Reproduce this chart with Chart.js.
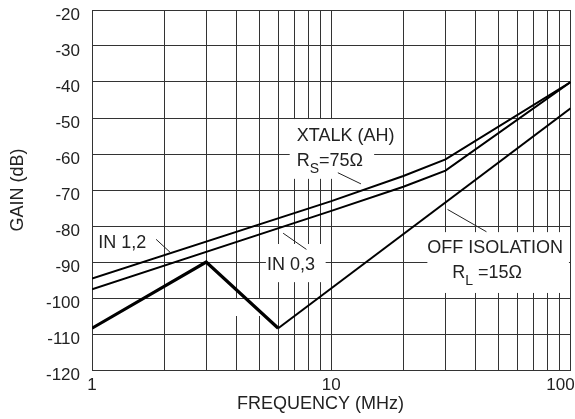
<!DOCTYPE html>
<html>
<head>
<meta charset="utf-8">
<script src="https://cdn.jsdelivr.net/npm/chart.js@4/dist/chart.umd.min.js"></script>
<style>
  html, body { margin: 0; padding: 0; background: #fff; overflow: hidden; }
  #wrap { width: 575px; height: 419px; overflow: hidden; }
</style>
</head>
<body>
<div id="wrap"><canvas id="gainChart" width="600" height="419"></canvas></div>
<script>
// values (MHz, dB)
const freqIn12 = [1, 10, 20, 30, 100];
const gainIn12 = [-94.6, -73.1, -66.1, -61.5, -40];
const freqIn03 = [1, 10, 20, 30, 100];
const gainIn03 = [-97.6, -75.8, -69.1, -64.6, -40];
const freqOff = [1, 3, 6, 100];
const gainOff = [-108.4, -90, -108.4, -47.3];

// axis ticks
const freqGrid = [1, 2, 3, 4, 5, 6, 7, 8, 9, 10, 20, 30, 40, 50, 60, 70, 80, 90, 100];
const freqLabels = ['1', '10', '100\u2003\u2009'];
const gainTicks = [-20, -30, -40, -50, -60, -70, -80, -90, -100, -110, -120];

const fam = '"Liberation Sans", Arial, sans-serif';
const textFont = '18px ' + fam;
const ink = '#222';

function pts(xs, ys) {
    return xs.map((x, i) => ({ x: x, y: ys[i] }));
}

// white boxes behind labels (data coords: f1, f2, dB top, dB bottom)
const labelBoxes = [
    [6.7, 15.1, -50.3, -66.9],
    [5.33, 9.47, -85.0, -95.6],
    [3.42, 5.43, -100.3, -105.0],
    [25.2, 98.4, -81.7, -98.6],
];

// label text: [freq, dB at baseline, parts]
const labelTexts = [
    [7.17, -56.5, [['XTALK (AH)']]],
    [7.17, -63.25, [['R'], ['S', 1], ['=75Ω']]],
    [1.062, -86.1, [['IN 1,2']]],
    [5.38, -92.2, [['IN 0,3']]],
    [25.2, -87.5, [['OFF ISOLATION']]],
    [32.0, -94.4, [['R'], ['L', 1], [' =15Ω']]],
];

// leader lines: [f1, dB1, f2, dB2]
const leaders = [
    [10.65, -65.2, 13.3, -68.3],
    [1.853, -83.7, 2.12, -87.3],
    [6.29, -82.0, 7.87, -86.5],
    [30.6, -75.4, 44.5, -81.6],
];

const labelPlugin = {
    id: 'labels',
    beforeDatasetsDraw(chart) {
        const { ctx, scales: { x, y } } = chart;
        ctx.save();
        ctx.fillStyle = '#fff';
        labelBoxes.forEach(b => {
            const x1 = x.getPixelForValue(b[0]), x2 = x.getPixelForValue(b[1]);
            const y1 = y.getPixelForValue(b[2]), y2 = y.getPixelForValue(b[3]);
            ctx.fillRect(x1, y1, x2 - x1, y2 - y1);
        });
        ctx.restore();
    },
    afterDatasetsDraw(chart) {
        const { ctx, scales: { x, y } } = chart;
        ctx.save();
        ctx.strokeStyle = ink;
        ctx.lineWidth = 1;
        leaders.forEach(l => {
            ctx.beginPath();
            ctx.moveTo(x.getPixelForValue(l[0]), y.getPixelForValue(l[1]));
            ctx.lineTo(x.getPixelForValue(l[2]), y.getPixelForValue(l[3]));
            ctx.stroke();
        });
        ctx.fillStyle = ink;
        ctx.textBaseline = 'alphabetic';
        ctx.textAlign = 'left';
        labelTexts.forEach(t => {
            let px = x.getPixelForValue(t[0]);
            const py = y.getPixelForValue(t[1]);
            t[2].forEach(p => {
                if (p[1]) {
                    ctx.font = '14px ' + fam;
                    ctx.fillText(p[0], px, py + 7);
                } else {
                    ctx.font = textFont;
                    ctx.fillText(p[0], px, py);
                }
                px += ctx.measureText(p[0]).width;
            });
        });
        ctx.restore();
    }
};

const ctx = document.getElementById('gainChart').getContext('2d');

const lineChart = new Chart(ctx, {
    type: 'line',
    data: {
        datasets: [{
            label: 'IN 1,2',
            data: pts(freqIn12, gainIn12),
            borderColor: '#000',
            borderWidth: 2,
        }, {
            label: 'IN 0,3',
            data: pts(freqIn03, gainIn03),
            borderColor: '#000',
            borderWidth: 2,
        }, {
            label: 'OFF ISOLATION',
            data: pts(freqOff, gainOff),
            borderColor: '#000',
            borderWidth: 2,
            segment: {
                borderWidth: c => c.p1DataIndex <= 2 ? 3.2 : 2,
            },
        }]
    },
    options: {
        responsive: false,
        animation: false,
        events: [],
        elements: {
            point: { radius: 0 },
            line: { tension: 0, fill: false },
        },
        layout: {
            padding: { left: 0, right: 28, top: 0, bottom: 0 },
        },
        plugins: {
            legend: { display: false },
            tooltip: { enabled: false },
        },
        scales: {
            x: {
                type: 'logarithmic',
                min: 1,
                max: 100,
                afterFit: s => { s.height = 49; },
                afterBuildTicks: s => { s.ticks = freqGrid.map(v => ({ value: v })); },
                grid: { color: '#333', lineWidth: 1, drawTicks: false },
                border: { color: '#333', width: 1 },
                ticks: {
                    autoSkip: false,
                    maxRotation: 0,
                    padding: 5,
                    color: ink,
                    font: { family: fam, size: 17 },
                    callback: v => {
                        const i = [1, 10, 100].indexOf(v);
                        return i >= 0 ? freqLabels[i] : '';
                    },
                },
                title: {
                    display: true,
                    text: 'FREQUENCY (MHz)\u2003\u2009',
                    color: ink,
                    padding: { top: 4, bottom: 4 },
                    font: { family: fam, size: 18 },
                },
            },
            y: {
                min: -120,
                max: -20,
                afterFit: s => { s.width = 92; s.paddingTop = 10; s.paddingBottom = 0; },
                afterBuildTicks: s => { s.ticks = gainTicks.map(v => ({ value: v })); },
                grid: { color: '#333', lineWidth: 1, drawTicks: false },
                border: { color: '#333', width: 1 },
                ticks: {
                    padding: 12,
                    labelOffset: 5,
                    color: ink,
                    font: { family: fam, size: 17 },
                },
                title: {
                    display: true,
                    text: 'GAIN (dB)',
                    color: ink,
                    padding: { top: 7, bottom: 4 },
                    font: { family: fam, size: 18 },
                },
            },
        },
    },
    plugins: [labelPlugin],
});
</script>
</body>
</html>
